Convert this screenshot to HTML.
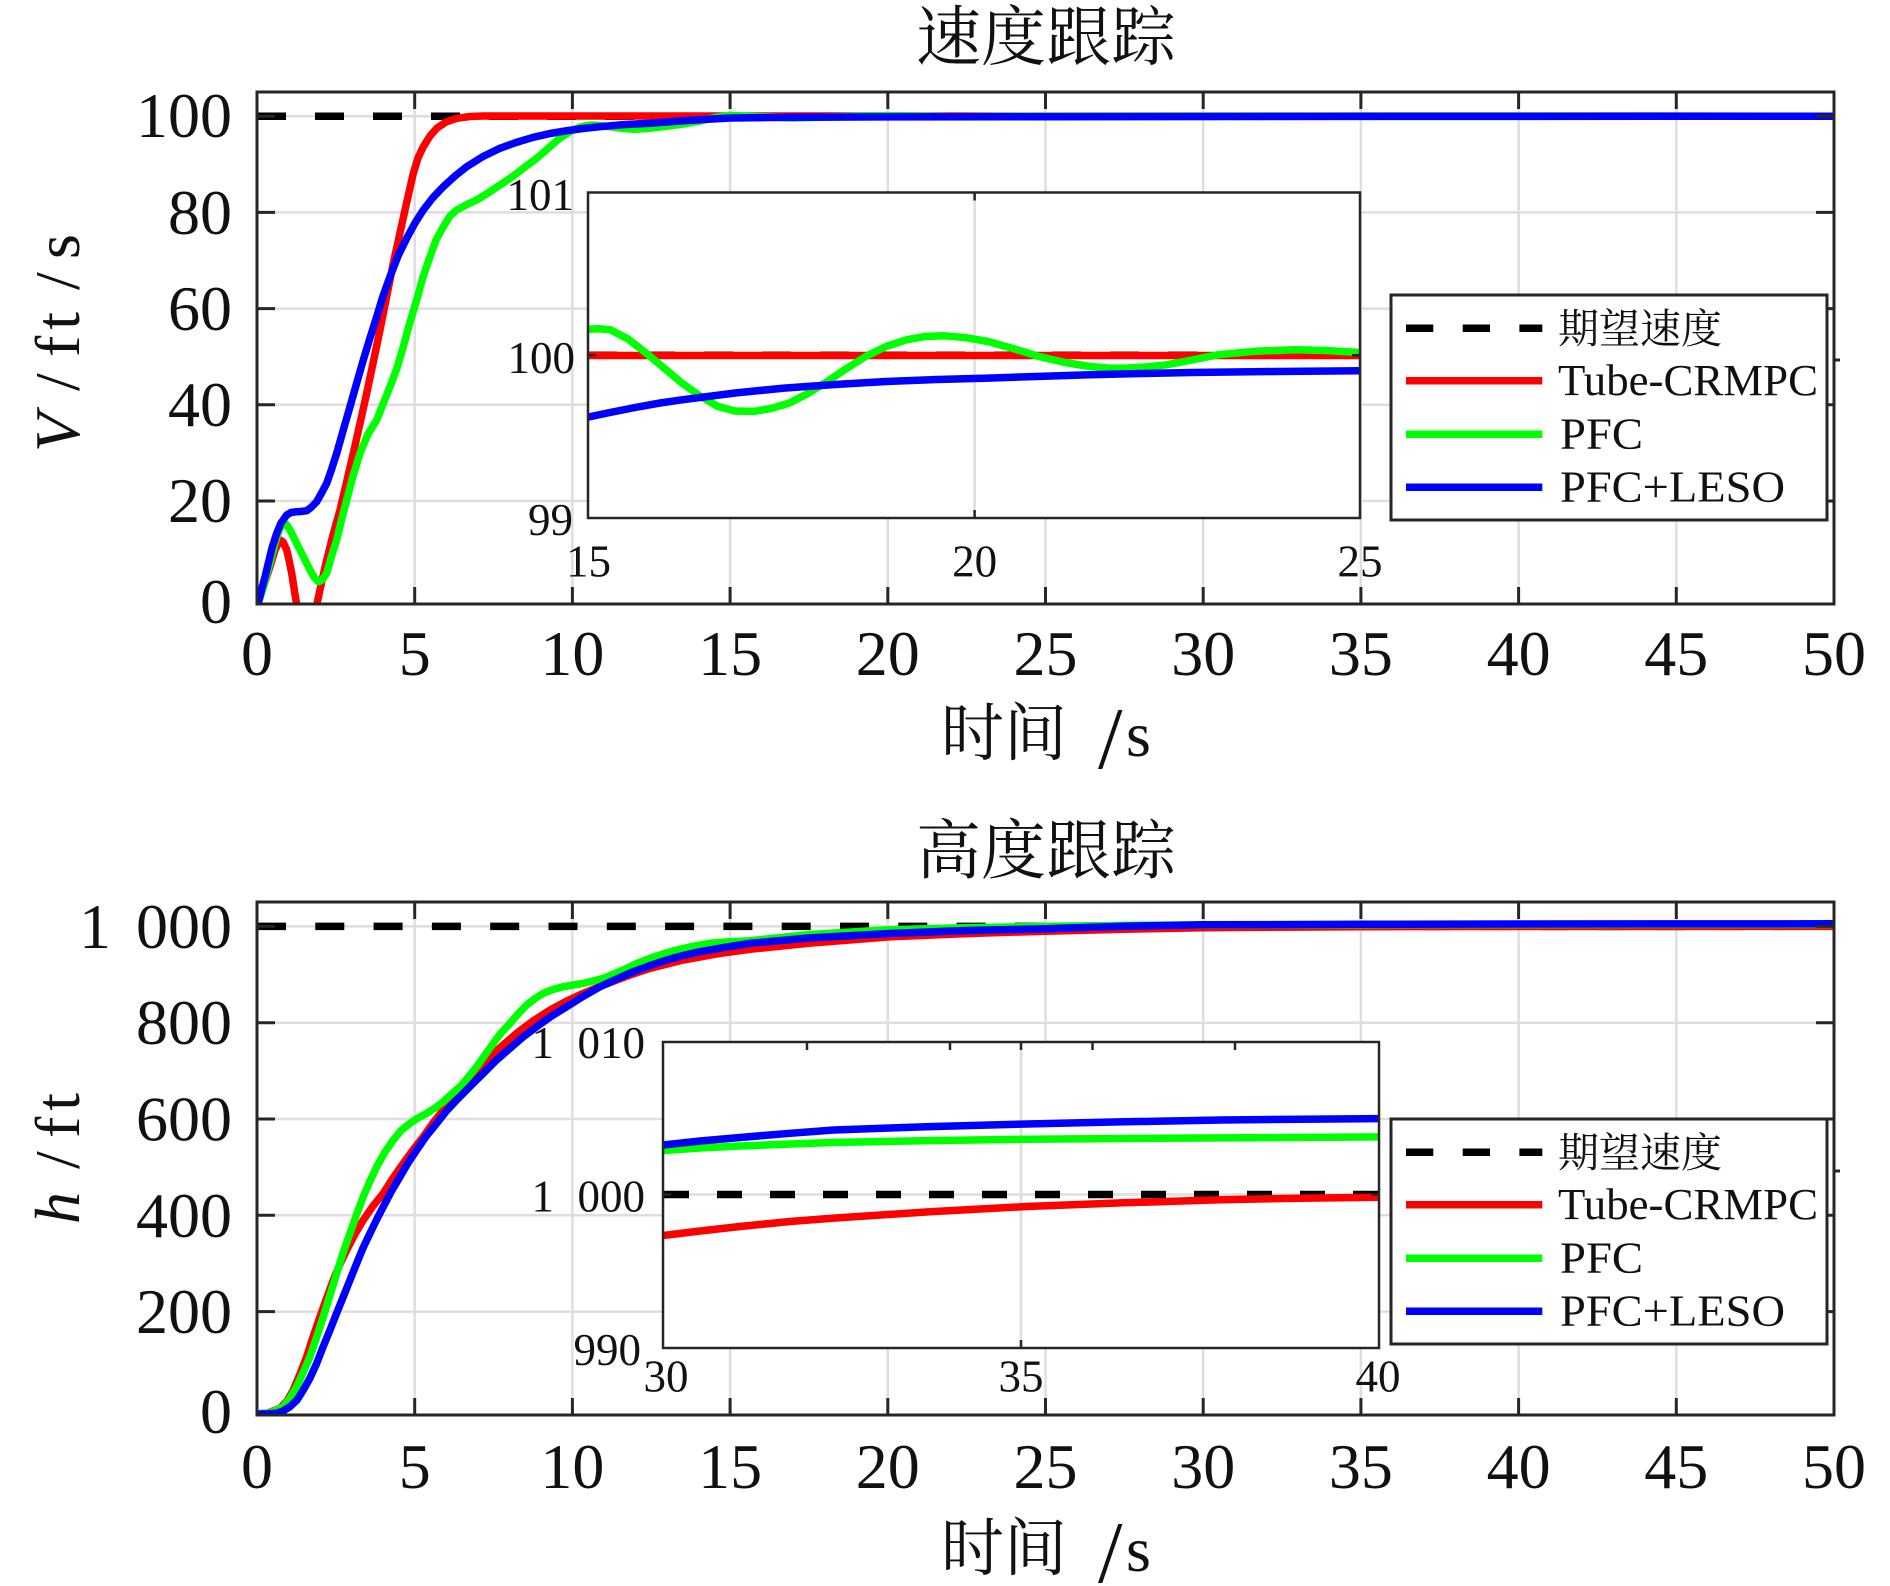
<!DOCTYPE html>
<html><head><meta charset="utf-8"><style>
html,body{margin:0;padding:0;background:#fff;}
svg{display:block;}
.t{font-family:"Liberation Serif","Noto Serif CJK SC",serif;fill:#111;}
.cj{font-family:"Liberation Serif","Noto Serif CJK SC",serif;fill:#111;}
</style></head><body>
<svg width="1890" height="1586" viewBox="0 0 1890 1586" xmlns="http://www.w3.org/2000/svg">
<rect width="1890" height="1586" fill="#fff"/>
<defs>
<clipPath id="c1"><rect x="257" y="92" width="1577" height="512"/></clipPath>
<clipPath id="c2"><rect x="257" y="902" width="1577" height="513"/></clipPath>
<clipPath id="ci1"><rect x="588" y="192.5" width="772" height="325.5"/></clipPath>
<clipPath id="ci2"><rect x="663" y="1042" width="716" height="306"/></clipPath>
</defs>

<!-- ============ TOP MAIN ============ -->
<g stroke="#dedede" stroke-width="2.5" fill="none">
<path d="M414.7 92V604M572.4 92V604M730.1 92V604M887.8 92V604M1045.5 92V604M1203.2 92V604M1360.9 92V604M1518.6 92V604M1676.3 92V604"/>
<path d="M257 116.2H1834M257 212.4H1834M257 308.6H1834M257 404.8H1834M257 501H1834"/>
</g>
<g clip-path="url(#c1)" fill="none" stroke-width="7.5" stroke-linejoin="round" stroke-linecap="round">
<path d="M257 116.2H1834" stroke="#000" stroke-dasharray="29 29" stroke-linecap="butt"/>
<polyline stroke="#ff0000" points="258,603 264,585 270,566.7 275,550 280,540 283,542 286.7,550 289,560 291.7,573.3 294,588 296.7,605 306,640 316.7,605 321,585 326.7,560 333,535 340,510 353.3,453.3 366.7,393.3 380,330 393.3,263.3 405,210 413.3,173.3 418,158 423.3,146.7 430,136 436.7,128.3 446,122 456.7,118.3 470,116.5 483.3,116 533.3,116 1834,116.2"/>
<polyline stroke="#00ff00" points="258,604 264,585 270,563 276,540 280,528 283.3,523.3 286,524 290,530 295,540 300,550 305,560 310,570 314,577 318.3,581.7 322,580 326.7,573.3 331,558 336.7,540 341,522 346.7,500 353,476 360,453.3 368,434 376.7,420 383,404 390,386.7 397,368 403.3,346.7 410,322 416.7,300 423,277 430,256.7 436,240 443.3,226.7 450,216 456.7,210 466,205 476.7,200 488,193 500,185 512,177 523.3,168.3 537,158 550,146.7 560,138 570,131.7 580,127 590,125 600,125.5 610,126.7 622,128.3 633.3,129.3 645,128.8 660,127 680,124.5 700,121 715,117.5 730,115.4 760,116.7 793,118 830,117 878,115.6 915,116 950,116.7 1000,116.4 1045,116.1 1834,116.2"/>
<polyline stroke="#0000ff" points="258,604 262,588 265,577 268.3,563.3 272,548 276.7,533.3 281,523 286.7,515 291,512.5 296.7,511.7 301,511.5 306.7,510.7 311,507.5 316.7,501.7 321,494 326.7,483.3 331,471 336.7,453.3 343,431 350,406.7 356.7,383 363.3,360 370,338 376.7,316.7 383,296 390,276.7 398,256 406.7,238.3 415,223 423.3,210 433,197.5 443.3,186.7 455,176 466.7,166.7 483,156.5 500,148.3 516,142.5 533.3,137.3 550,133.5 566.7,130.7 583,128.5 600,126.7 625,124.5 650,123.3 690,120.3 730,118 800,117.3 887,116.9 1045,116.7 1400,116.4 1834,116.2"/>
</g>
<g stroke="#262626" stroke-width="3" fill="none">
<rect x="257" y="92" width="1577" height="512"/>
<path d="M414.7 604v-17M572.4 604v-17M730.1 604v-17M887.8 604v-17M1045.5 604v-17M1203.2 604v-17M1360.9 604v-17M1518.6 604v-17M1676.3 604v-17M1834 604v-17"/>
<path d="M414.7 92v17M572.4 92v17M730.1 92v17M887.8 92v17M1045.5 92v17M1203.2 92v17M1360.9 92v17M1518.6 92v17M1676.3 92v17"/>
<path d="M257 116.2h18M257 212.4h18M257 308.6h18M257 404.8h18M257 501h18"/>
<path d="M1834 116.2h-18M1834 212.4h-18M1834 308.6h-18M1834 404.8h-18M1834 501h-18M1834 604h-17M1834 360h6"/>
</g>

<!-- top inset -->
<rect x="588" y="192.5" width="772" height="325.5" fill="#fff"/>
<g stroke="#dedede" stroke-width="2.5"><path d="M974.6 192.5V518M588 355.25H1360"/></g>
<g clip-path="url(#ci1)" fill="none" stroke-width="7.5" stroke-linejoin="round" stroke-linecap="round">
<path d="M588 355.25H1360" stroke="#000" stroke-dasharray="29 29" stroke-linecap="butt"/>
<polyline stroke="#ff0000" points="588,355.5 1360,355.5"/>
<polyline stroke="#00ff00" points="588,329.2 600,328.8 610.6,329.9 628,339 646.3,353.2 664,368 682,383.1 700,396 717.7,406.4 735,411 753.4,411.4 771,408.5 789.1,403.1 807,394 824.8,383.1 845,369.5 865.6,356.5 886,346.5 906.4,339.8 925,336.5 944.7,335.8 966,337.7 988,341.5 1013,348.5 1039,356.5 1065,362.5 1090,366.5 1108,368 1125.7,368.1 1146,367 1166.5,364.8 1192,360 1217.5,354.8 1255,351.3 1294,349.8 1325,350.5 1360,352.5"/>
<polyline stroke="#0000ff" points="588,417.1 610,412.5 635,407.5 660,403 682,399.8 735,393 784,388.1 835,384.5 886,381.5 937,379.5 988,378.1 1040,376.4 1090,374.8 1141,373.5 1192,372.5 1276,371.5 1360,370.8"/>
</g>
<g stroke="#262626" stroke-width="2.5" fill="none">
<rect x="588" y="192.5" width="772" height="325.5"/>
<path d="M974.6 192.5v8M974.6 518v-8M588 355.25h8M1360 355.25h-8"/>
</g>
<g class="t" font-size="45" text-anchor="end">
<text x="574" y="210">101</text>
<text x="575" y="373">100</text>
<text x="573" y="535">99</text>
</g>
<g class="t" font-size="45" text-anchor="middle">
<text x="588.5" y="576.5">15</text>
<text x="974.6" y="576.5">20</text>
<text x="1360" y="576.5">25</text>
</g>

<!-- top legend -->
<rect x="1391" y="295" width="436" height="225" fill="#fff" stroke="#262626" stroke-width="3"/>
<g stroke-width="7.5" fill="none">
<path d="M1406 328.3H1542.3" stroke="#000" stroke-dasharray="27.3 29.4"/>
<path d="M1406 380.7H1542.3" stroke="#ff0000"/>
<path d="M1406 434.3H1542.3" stroke="#00ff00"/>
<path d="M1406 487.3H1542.3" stroke="#0000ff"/>
</g>
<text class="cj" x="1558" y="343" font-size="41">期望速度</text>
<g class="t" font-size="44">
<text x="1558" y="395" textLength="260" lengthAdjust="spacingAndGlyphs">Tube-CRMPC</text>
<text x="1560" y="448.5" textLength="83" lengthAdjust="spacingAndGlyphs">PFC</text>
<text x="1560" y="501.5" textLength="225" lengthAdjust="spacingAndGlyphs">PFC+LESO</text>
</g>

<!-- top tick labels -->
<g class="t" font-size="64" text-anchor="end">
<text x="232" y="623">0</text>
<text x="232" y="522">20</text>
<text x="232" y="426">40</text>
<text x="232" y="330">60</text>
<text x="232" y="234">80</text>
<text x="232" y="137">100</text>
</g>
<g class="t" font-size="64" text-anchor="middle">
<text x="257" y="675">0</text>
<text x="414.7" y="675">5</text>
<text x="572.4" y="675">10</text>
<text x="730.1" y="675">15</text>
<text x="887.8" y="675">20</text>
<text x="1045.5" y="675">25</text>
<text x="1203.2" y="675">30</text>
<text x="1360.9" y="675">35</text>
<text x="1518.6" y="675">40</text>
<text x="1676.3" y="675">45</text>
<text x="1834" y="675">50</text>
</g>
<text class="cj" x="1046" y="59.5" font-size="65" text-anchor="middle">速度跟踪</text>
<text class="cj" x="941" y="755" font-size="63">时间</text>
<text class="t" x="1098" y="768" font-size="88">/</text>
<text class="t" x="1126" y="756" font-size="64">s</text>
<g class="t" font-size="64">
<text transform="translate(79,452) rotate(-90)" font-style="italic">V</text>
<text transform="translate(79,391) rotate(-90)">/</text>
<text transform="translate(79,357) rotate(-90)" letter-spacing="6">ft</text>
<text transform="translate(79,290) rotate(-90)">/</text>
<text transform="translate(79,259) rotate(-90)">s</text>
</g>

<!-- ============ BOTTOM MAIN ============ -->
<g stroke="#dedede" stroke-width="2.5" fill="none">
<path d="M414.7 902V1415M572.4 902V1415M730.1 902V1415M887.8 902V1415M1045.5 902V1415M1203.2 902V1415M1360.9 902V1415M1518.6 902V1415M1676.3 902V1415"/>
<path d="M257 926.4H1834M257 1022.7H1834M257 1119H1834M257 1215.3H1834M257 1311.6H1834"/>
</g>
<g clip-path="url(#c2)" fill="none" stroke-width="7.5" stroke-linejoin="round" stroke-linecap="round">
<path d="M257 926.4H1834" stroke="#000" stroke-dasharray="29 29.3" stroke-linecap="butt"/>
<polyline stroke="#ff0000" points="257,1414 268,1413 280,1408.3 287,1401 293.3,1390 300,1374 306.7,1356.7 313,1337 320,1316.7 326.7,1298 333.3,1280 340,1264 346.7,1250 355,1234 363.3,1220 373,1206 383.3,1193.3 393,1178 403.3,1163.3 413,1150 423.3,1136.7 433,1123 443.3,1110 455,1095.5 466.7,1081.7 478,1069 490,1056.7 503,1045 516.7,1033.3 533,1021 550,1010 566.7,1001 583.3,993.3 600,986.5 616.7,980 633,974 650,968.3 683.3,960 716,954 750,949.3 808.6,943.3 887.4,937 966,933.6 1045,931.2 1124,929.3 1203,927.7 1360,926.7 1518,926.5 1834,926.4"/>
<polyline stroke="#00ff00" points="257,1414 270,1413 283.3,1406.7 290,1398 296.7,1386.7 303,1373 310,1356.7 316.7,1337 323.3,1316.7 330,1295 336.7,1273.3 343,1253 350,1233.3 356.7,1214 363.3,1196.7 370,1181 376.7,1166.7 385,1152 393.3,1140 401,1130.5 410,1123.3 418,1118 426.7,1113.3 435,1108 443.3,1101.7 451,1094.5 460,1086.7 468,1077.5 476.7,1066.7 485,1055 493.3,1043.3 501,1033 510,1023.3 518,1014 526.7,1005 535,998.5 543.3,993.3 553,989.5 563.3,986.7 573,985 583.3,983.3 593,981 603.3,978.3 615,973.5 626.7,968.3 638,963 650,958.3 663,954 676.7,950 693,946.3 710,943.3 730,941.8 750,940.7 808.6,934.6 887.4,929.8 966,927.6 1045,926.4 1124,925.4 1203,925 1360,924.7 1518,924.6 1834,924.5"/>
<polyline stroke="#0000ff" points="257,1414 268,1414 276.7,1413.3 283,1411 290,1406.7 297,1400 303.3,1390 310,1378 316.7,1363.3 323,1347 330,1330 336.7,1313 343.3,1296.7 350,1280 356.7,1263.3 363,1248 370,1233.3 376.7,1219.5 383.3,1206.7 391,1192 400,1176.7 408,1163 416.7,1150 426,1136.5 436.7,1123.3 446,1111.5 456.7,1100 470,1086.5 483.3,1073.3 496,1060.5 510,1048.3 523,1037 536.7,1026.7 551,1016.5 566.7,1006.7 583,996.5 600,986.7 616.7,979 633.3,971.7 650,965.5 666.7,960 683,955.5 700,951.7 725,947.3 750,943.3 808.6,938 887.4,933.6 966,930.5 1045,928.8 1124,926.2 1203,924.8 1360,924.3 1518,924 1834,923.8"/>
</g>
<g stroke="#262626" stroke-width="3" fill="none">
<rect x="257" y="902" width="1577" height="513"/>
<path d="M414.7 1415v-17M572.4 1415v-17M730.1 1415v-17M887.8 1415v-17M1045.5 1415v-17M1203.2 1415v-17M1360.9 1415v-17M1518.6 1415v-17M1676.3 1415v-17M1834 1415v-17"/>
<path d="M414.7 902v17M572.4 902v17M730.1 902v17M887.8 902v17M1045.5 902v17M1203.2 902v17M1360.9 902v17M1518.6 902v17M1676.3 902v17"/>
<path d="M257 926.4h18M257 1022.7h18M257 1119h18M257 1215.3h18M257 1311.6h18"/>
<path d="M1834 926.4h-18M1834 1022.7h-18M1834 1119h-18M1834 1215.3h-18M1834 1311.6h-18M1834 1415h-17M1834 1171h6"/>
</g>

<!-- bottom inset -->
<rect x="663" y="1042" width="716" height="306" fill="#fff"/>
<g stroke="#dedede" stroke-width="2.5"><path d="M1021 1042V1348M663 1194.5H1379"/></g>
<g clip-path="url(#ci2)" fill="none" stroke-width="7.5" stroke-linejoin="round" stroke-linecap="round">
<path d="M664 1194.5H1379" stroke="#000" stroke-dasharray="25 28" stroke-linecap="butt"/>
<polyline stroke="#ff0000" points="663,1235.5 700,1231 740,1226.5 790,1221.5 833.6,1218.1 930,1211.8 1027,1206.5 1124,1202.8 1221,1199.8 1300,1198.2 1379,1197.2"/>
<polyline stroke="#00ff00" points="663,1150.5 700,1148 740,1146 790,1144 833.6,1142.5 930,1140.6 1027,1139.2 1200,1138 1379,1136.9"/>
<polyline stroke="#0000ff" points="663,1145 700,1141 740,1137.5 790,1133.3 833.6,1130 930,1126.6 1027,1124 1124,1121.8 1221,1120 1300,1119.2 1379,1118.6"/>
</g>
<g stroke="#262626" stroke-width="2.5" fill="none">
<rect x="663" y="1042" width="716" height="306"/>
<path d="M1021 1042v8M1021 1348v-8M807 1042v8M950 1042v8M1092.5 1042v8M1235 1042v8M663 1194.5h8M1379 1194.5h-8"/>
</g>
<g class="t" font-size="45" text-anchor="end">
<text x="554" y="1058">1</text><text x="645" y="1058">010</text>
<text x="554" y="1211.5">1</text><text x="645" y="1211.5">000</text>
<text x="641" y="1365">990</text>
</g>
<g class="t" font-size="45" text-anchor="middle">
<text x="666" y="1391.5">30</text>
<text x="1021" y="1391.5">35</text>
<text x="1378" y="1391.5">40</text>
</g>

<!-- bottom legend -->
<rect x="1391" y="1119" width="436" height="225" fill="#fff" stroke="#262626" stroke-width="3"/>
<g stroke-width="7.5" fill="none">
<path d="M1406 1152.3H1542.3" stroke="#000" stroke-dasharray="27.3 29.4"/>
<path d="M1406 1204.7H1542.3" stroke="#ff0000"/>
<path d="M1406 1258.3H1542.3" stroke="#00ff00"/>
<path d="M1406 1311.3H1542.3" stroke="#0000ff"/>
</g>
<text class="cj" x="1558" y="1167" font-size="41">期望速度</text>
<g class="t" font-size="44">
<text x="1558" y="1219" textLength="260" lengthAdjust="spacingAndGlyphs">Tube-CRMPC</text>
<text x="1560" y="1272.5" textLength="83" lengthAdjust="spacingAndGlyphs">PFC</text>
<text x="1560" y="1325.5" textLength="225" lengthAdjust="spacingAndGlyphs">PFC+LESO</text>
</g>

<!-- bottom tick labels -->
<g class="t" font-size="64" text-anchor="end">
<text x="232" y="1433">0</text>
<text x="232" y="1333">200</text>
<text x="232" y="1237">400</text>
<text x="232" y="1140.5">600</text>
<text x="232" y="1044">800</text>
<text x="111" y="948">1</text><text x="232" y="948">000</text>
</g>
<g class="t" font-size="64" text-anchor="middle">
<text x="257" y="1488">0</text>
<text x="414.7" y="1488">5</text>
<text x="572.4" y="1488">10</text>
<text x="730.1" y="1488">15</text>
<text x="887.8" y="1488">20</text>
<text x="1045.5" y="1488">25</text>
<text x="1203.2" y="1488">30</text>
<text x="1360.9" y="1488">35</text>
<text x="1518.6" y="1488">40</text>
<text x="1676.3" y="1488">45</text>
<text x="1834" y="1488">50</text>
</g>
<text class="cj" x="1046" y="873" font-size="65" text-anchor="middle">高度跟踪</text>
<text class="cj" x="941" y="1570" font-size="63">时间</text>
<text class="t" x="1098" y="1582" font-size="88">/</text>
<text class="t" x="1126" y="1571" font-size="64">s</text>
<g class="t" font-size="64">
<text transform="translate(79,1224) rotate(-90)" font-style="italic">h</text>
<text transform="translate(79,1169) rotate(-90)">/</text>
<text transform="translate(79,1138) rotate(-90)" letter-spacing="6">ft</text>
</g>
</svg>
</body></html>
